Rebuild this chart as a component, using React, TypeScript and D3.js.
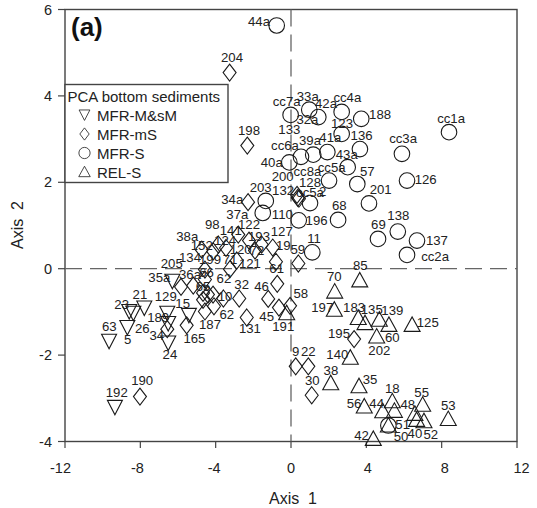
import React from "react";
import * as d3 from "d3";

const xTicks = [-12, -8, -4, 0, 4, 8, 12];
const yTicks = [-4, -2, 0, 2, 4, 6];
const legendEntries = ["MFR-M&sM", "MFR-mS", "MFR-S", "REL-S"];

const mfrMsM: [number, number][] = [[-6.3,-0.29],[-7.79,-0.91],[-8.37,-1.03],[-8.59,-0.99],[-8.69,-1.36],[-9.66,-1.68],[-6.57,-1.03],[-6.52,-1.27],[-6.52,-1.72],[-5.42,-1.08],[-9.35,-3.21]];
const mfrMS: [number, number][] = [[-3.26,4.54],[-2.32,2.85],[-2.28,1.54],[-2.8,0.79],[-2.23,0.65],[-1.56,0.56],[-0.97,0.49],[-1.91,0.42],[-2.88,0.19],[-3.24,-0.01],[-0.8,0.16],[0.39,0.12],[-0.73,-0.35],[-1.21,-0.7],[-2.75,-0.69],[-2.35,-1.13],[-0.64,-0.9],[-0.05,-0.86],[-4.09,-0.87],[-3.59,-0.69],[-4.57,-0.99],[-4.13,0.4],[-3.45,0.48],[-3.86,0.56],[-4.74,0.44],[-4.57,-0.02],[-4.57,-0.25],[-4.67,-0.56],[-4.41,-0.6],[-5.84,-0.42],[-5.19,-0.39],[-4.14,-0.6],[-4.67,-0.72],[-6.57,-1.4],[-5.54,-1.31],[-8.02,-2.96],[3.35,-1.63],[0.25,-2.26],[0.92,-2.26],[1.1,-2.93],[0.36,1.64],[0.42,1.62],[0.32,1.71]];
const mfrS: [number, number][] = [[8.39,3.16],[5.89,2.66],[6.16,2.04],[3.52,1.96],[4.14,1.51],[2.5,1.13],[5.67,0.86],[4.62,0.69],[6.69,0.65],[6.16,0.32],[2.69,3.63],[3.73,3.47],[2.69,3.12],[3.66,2.77],[1.45,3.51],[0.97,3.68],[-0.02,3.56],[1.18,2.64],[1.93,2.7],[3.01,2.35],[0.53,2.59],[-0.09,2.46],[2.02,2.04],[-1.34,1.57],[-1.5,1.29],[0.41,1.12],[1.13,0.38],[-0.76,5.63],[1.01,1.52],[5.17,-3.63]];
const relS: [number, number][] = [[3.65,-0.27],[2.32,-0.53],[2.3,-0.95],[3.57,-1.14],[3.93,-1.26],[4.69,-1.18],[5.2,-1.3],[6.43,-1.3],[4.55,-1.57],[3.15,-2.06],[2.11,-2.65],[3.61,-2.72],[3.89,-3.19],[4.87,-3.3],[5.38,-3.07],[5.49,-3.29],[6.58,-3.36],[6.99,-3.15],[8.35,-3.48],[5.17,-3.63],[6.67,-3.5],[7.06,-3.53],[4.37,-3.94],[-0.23,-1.03]];

const pointLabels: [string, number, number][] = [
["cc1a",8.5,3.48],["cc3a",5.95,3.02],["126",7.15,2.06],["57",4.05,2.26],["201",4.76,1.85],["68",2.56,1.47],["138",5.7,1.23],["69",4.64,1.02],["137",7.75,0.67],["cc2a",7.65,0.28],["cc4a",2.99,3.97],["188",4.73,3.57],["123",2.71,3.37],["136",3.75,3.1],["42a",1.86,3.84],["33a",0.89,4.0],["cc7a",-0.23,3.87],["32a",0.87,3.45],["133",-0.09,3.23],["39a",1.01,2.97],["41a",2.09,3.05],["43a",2.96,2.66],["cc6a",-0.32,2.85],["40a",-1.02,2.47],["200",-0.44,2.15],["cc8a",0.87,2.26],["cc5a",2.16,2.35],["128",1.01,1.99],["cc5a",1.01,1.76],["2",1.68,1.79],["132",-0.42,1.81],["203",-1.61,1.88],["110",-0.46,1.27],["196",1.36,1.12],["11",1.22,0.71],["44a",-1.7,5.73],["204",-3.13,4.9],["198",-2.23,3.2],["34a",-3.12,1.6],["37a",-2.85,1.27],["98",-4.18,1.02],["141",-3.2,0.88],["122",-2.23,1.02],["193",-1.7,0.75],["127",-0.49,0.86],["19",-0.41,0.54],["59",0.36,0.44],["61",-0.76,0.02],["124",-3.5,0.66],["120",-2.67,0.46],["72",-1.81,0.42],["199",-4.3,0.22],["71",-3.24,0.21],["121",-2.18,0.13],["62",-3.56,-0.23],["32",-2.62,-0.37],["46",-1.56,-0.41],["58",0.52,-0.56],["10",-3.5,-0.64],["62",-3.41,-1.06],["45",-1.29,-1.09],["191",-0.41,-1.34],["131",-2.18,-1.37],["187",-4.3,-1.28],["38a",-5.51,0.75],["152",-4.74,0.54],["134",-5.36,0.27],["205",-6.33,0.13],["35a",-6.99,-0.19],["36a",-5.36,-0.12],["66",-4.48,-0.09],["65",-4.67,-0.41],["21",-8.02,-0.59],["129",-6.65,-0.64],["15",-5.75,-0.81],["23",-8.99,-0.82],["63",-9.65,-1.34],["26",-7.9,-1.37],["5",-8.67,-1.63],["189",-7.05,-1.12],["34",-7.13,-1.53],["165",-5.13,-1.6],["24",-6.43,-1.99],["190",-7.9,-2.59],["192",-9.25,-2.86],["85",3.68,0.07],["70",2.3,-0.18],["197",1.66,-0.9],["183",3.35,-0.9],["135",4.29,-0.93],["139",5.38,-0.97],["125",7.26,-1.23],["60",5.38,-1.58],["202",4.69,-1.88],["195",2.55,-1.49],["140",2.46,-1.99],["9",0.25,-1.91],["22",0.92,-1.91],["30",1.13,-2.59],["38",2.12,-2.35],["35",4.2,-2.55],["56",3.35,-3.11],["44",4.55,-3.11],["18",5.38,-2.76],["48",6.2,-3.13],["55",6.94,-2.85],["53",8.35,-3.16],["51",5.93,-3.61],["50",5.84,-3.87],["40",6.58,-3.8],["52",7.42,-3.84],["42",3.75,-3.86],
];

const FONT = '"Liberation Sans", Arial, sans-serif';
const INK = "#222";
const FRAME = "#444";

const x = d3.scaleLinear().domain([-12, 12]).range([65, 517]);
const y = d3.scaleLinear().domain([-4, 6]).range([441.5, 9.5]);
const xLabel = d3.scaleLinear().domain([-12, 12]).range([60.5, 521.5]);

const downPath = "M-7.5,-7 L7.5,-7 L0,7.5 Z";
const upPath = "M-8,6.5 L8,6.5 L0,-8 Z";
const diamondPath = "M0,-8.5 L6.5,0 L0,8.5 L-6.5,0 Z";

function Marker({ kind, cx, cy, r = 1 }: { kind: string; cx: number; cy: number; r?: number }) {
  const common = { fill: "none", stroke: "#1a1a1a", strokeWidth: 1.1 };
  const transform = `translate(${cx},${cy}) scale(${r})`;
  if (kind === "circle") return <circle cx={0} cy={0} r={7.8} transform={transform} {...common} />;
  const d = kind === "down" ? downPath : kind === "up" ? upPath : diamondPath;
  return <path d={d} transform={transform} {...common} />;
}

const series: [string, [number, number][]][] = [
  ["down", mfrMsM],
  ["diamond", mfrMS],
  ["circle", mfrS],
  ["up", relS],
];
const legendKinds = ["down", "diamond", "circle", "up"];

export default function App() {
  return (
    <svg
      width={537}
      height={508}
      style={{ position: "absolute", left: 0, top: 0, background: "#fff" }}
      fontFamily={FONT}
    >
      <rect x={65} y={9.5} width={452} height={432} fill="none" stroke={FRAME} strokeWidth={1.4} />
      <line x1={x(0)} x2={x(0)} y1={y(6)} y2={y(-4)} stroke="#666" strokeWidth={1.3} strokeDasharray="17 8" />
      <line x1={x(-12)} x2={x(12)} y1={y(0)} y2={y(0)} stroke="#666" strokeWidth={1.3} strokeDasharray="17 8" />

      {xTicks.map((t) => (
        <g key={t}>
          <line x1={x(t)} x2={x(t)} y1={441.5} y2={448} stroke={FRAME} strokeWidth={1.2} />
          <text x={xLabel(t)} y={473} textAnchor="middle" fontSize={14.5} fill={INK}>{t}</text>
        </g>
      ))}
      {yTicks.map((t) => (
        <g key={t}>
          <line x1={58} x2={65} y1={y(t)} y2={y(t)} stroke={FRAME} strokeWidth={1.2} />
          <text x={52} y={y(t) + 5} textAnchor="end" fontSize={14.5} fill={INK}>{t}</text>
        </g>
      ))}

      <text x={293} y={504} textAnchor="middle" fontSize={16} style={{ whiteSpace: "pre" }} fill={INK}>{"Axis  1"}</text>
      <text transform="translate(23,225) rotate(-90)" textAnchor="middle" fontSize={16} style={{ whiteSpace: "pre" }} fill={INK}>{"Axis  2"}</text>
      <text x={71} y={36} fontSize={26} fontWeight="bold" fill="#111">(a)</text>

      {series.map(([kind, pts]) =>
        pts.map(([a, b], i) => <Marker key={kind + i} kind={kind} cx={x(a)} cy={y(b)} />)
      )}

      {pointLabels.map(([t, a, b], i) => (
        <text key={i} x={x(a)} y={y(b)} dy="0.36em" textAnchor="middle" fontSize={13.2} fill={INK}>{t}</text>
      ))}

      <rect x={65} y={84.5} width={163} height={98} fill="#fff" stroke={FRAME} strokeWidth={1.4} />
      <text x={67.5} y={101.5} fontSize={15} fill={INK}>PCA bottom sediments</text>
      {legendEntries.map((t, i) => (
        <g key={t}>
          <Marker kind={legendKinds[i]} cx={84.5} cy={115 + i * 19} r={0.72} />
          <text x={97} y={120.5 + i * 19} fontSize={15} fill={INK}>{t}</text>
        </g>
      ))}
    </svg>
  );
}
